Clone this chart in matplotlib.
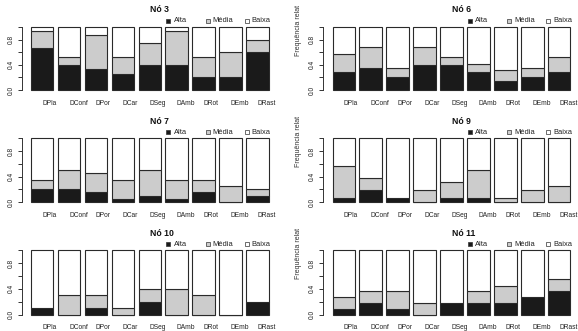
import numpy as np
import matplotlib.pyplot as plt
from matplotlib.patches import Rectangle

plt.rcParams['font.family'] = ['Liberation Sans', 'DejaVu Sans']

W, H = 578, 331

names = ['DPla', 'DConf', 'DPor', 'DCar', 'DSeg', 'DAmb', 'DRot', 'DEmb', 'DRast']
titles = ['Nó 3', 'Nó 6', 'Nó 7', 'Nó 9', 'Nó 10', 'Nó 11']

alta3 = [0.67, 0.40, 0.33, 0.25, 0.40, 0.40, 0.20, 0.20, 0.60]
media3 = [0.27, 0.13, 0.54, 0.28, 0.34, 0.53, 0.33, 0.40, 0.20]
baixa3 = [0.06, 0.47, 0.13, 0.47, 0.26, 0.07, 0.47, 0.40, 0.20]

alta6 = [0.28, 0.35, 0.20, 0.40, 0.40, 0.28, 0.14, 0.20, 0.28]
media6 = [0.29, 0.33, 0.15, 0.28, 0.13, 0.14, 0.17, 0.15, 0.25]
baixa6 = [0.43, 0.32, 0.65, 0.32, 0.47, 0.58, 0.69, 0.65, 0.47]

alta7 = [0.20, 0.20, 0.15, 0.05, 0.10, 0.05, 0.15, 0.00, 0.10]
media7 = [0.14, 0.30, 0.30, 0.29, 0.40, 0.29, 0.19, 0.25, 0.10]
baixa7 = [0.66, 0.50, 0.55, 0.66, 0.50, 0.66, 0.66, 0.75, 0.80]

alta9 = [0.06, 0.19, 0.06, 0.00, 0.06, 0.06, 0.00, 0.00, 0.00]
media9 = [0.50, 0.18, 0.00, 0.19, 0.25, 0.44, 0.06, 0.19, 0.25]
baixa9 = [0.44, 0.63, 0.94, 0.81, 0.69, 0.50, 0.94, 0.81, 0.75]

alta10 = [0.10, 0.00, 0.10, 0.00, 0.20, 0.00, 0.00, 0.00, 0.20]
media10 = [0.00, 0.30, 0.20, 0.10, 0.20, 0.40, 0.30, 0.00, 0.00]
baixa10 = [0.90, 0.70, 0.70, 0.90, 0.60, 0.60, 0.70, 1.00, 0.80]

alta11 = [0.09, 0.18, 0.09, 0.00, 0.18, 0.18, 0.18, 0.27, 0.36]
media11 = [0.18, 0.18, 0.27, 0.18, 0.00, 0.18, 0.27, 0.00, 0.19]
baixa11 = [0.73, 0.64, 0.64, 0.82, 0.82, 0.64, 0.55, 0.73, 0.45]

data = [(alta3, media3, baixa3), (alta6, media6, baixa6),
        (alta7, media7, baixa7), (alta9, media9, baixa9),
        (alta10, media10, baixa10), (alta11, media11, baixa11)]

cols = ['#1a1a1a', '#cccccc', 'white']
labs = ['Alta', 'Média', 'Baixa']
edge = '#2a2a2a'

# pixel geometry: x of axis line / right end, y of value 1 and value 0
xcols = [(21.5, 278.0), (323.0, 580.0)]
yrows = [(27.0, 90.0), (138.3, 202.0), (250.0, 314.7)]

fig = plt.figure(figsize=(W / 100, H / 100), dpi=100)

x = 0.7 + 1.2 * np.arange(len(names))
xmin, xmax = -0.224, 11.224

for k in range(6):
    r, c = k // 2, k % 2
    x0, x1 = xcols[c]
    y1, y0 = yrows[r]
    span = y0 - y1
    top = y1 - 0.04 * span
    bot = y0 + 0.04 * span
    ax = fig.add_axes([x0 / W, 1 - bot / H, (x1 - x0) / W, (bot - top) / H])
    ax.set_xlim(xmin, xmax)
    ax.set_ylim(-0.04, 1.04)
    alta, media, baixa = data[k]
    bottom = np.zeros(len(names))
    for vals, col in zip((alta, media, baixa), cols):
        ax.bar(x, vals, width=1.0, bottom=bottom, color=col, edgecolor=edge, linewidth=0.8)
        bottom = bottom + np.array(vals)

    for s in ['top', 'right', 'bottom']:
        ax.spines[s].set_visible(False)
    ax.spines['left'].set_bounds(0, 1)
    ax.spines['left'].set_linewidth(0.7)
    ax.spines['left'].set_color('#333333')
    ax.set_xticks([])
    ax.set_yticks([0, 0.2, 0.4, 0.6, 0.8, 1.0])
    ax.set_yticklabels(['0.0', '', '0.4', '', '0.8', ''], rotation=90, va='center')
    ax.tick_params(axis='y', length=3, width=0.7, color='#333333', labelsize=4.8, pad=2,
                   labelcolor='#222222')
    ax.patch.set_alpha(0)

    # bar names, left aligned at bar centres
    for xi, nm in zip(x, names):
        ax.text(xi, -0.04 - 10.5 / span, nm, ha='left', va='center', fontsize=4.8,
                color='#222222', clip_on=False)

    # title
    ax.text(5.5, 1 + 17 / span, titles[k], ha='left', va='center', fontsize=6.2,
            fontweight='bold', color='#111111', clip_on=False)

    # legend drawn R style
    ly = y1 - 6
    for off, lab, col in zip([147, 186, 225], labs, cols):
        bx = x0 + off
        fig.patches.append(Rectangle(((bx - 2) / W, 1 - (ly + 2) / H), 4 / W, 4 / H,
                                     transform=fig.transFigure, facecolor=col,
                                     edgecolor='#333333', linewidth=0.5))
        fig.text((bx + 5) / W, 1 - ly / H, lab, ha='left', va='center', fontsize=5.4,
                 color='#222222')

    if c == 1:
        fig.text(298 / W, 1 - (y1 + 3) / H, 'Frequência relat', rotation=90,
                 ha='center', va='center', fontsize=5.0, color='#333333')

fig.savefig('out.png', dpi=100)
